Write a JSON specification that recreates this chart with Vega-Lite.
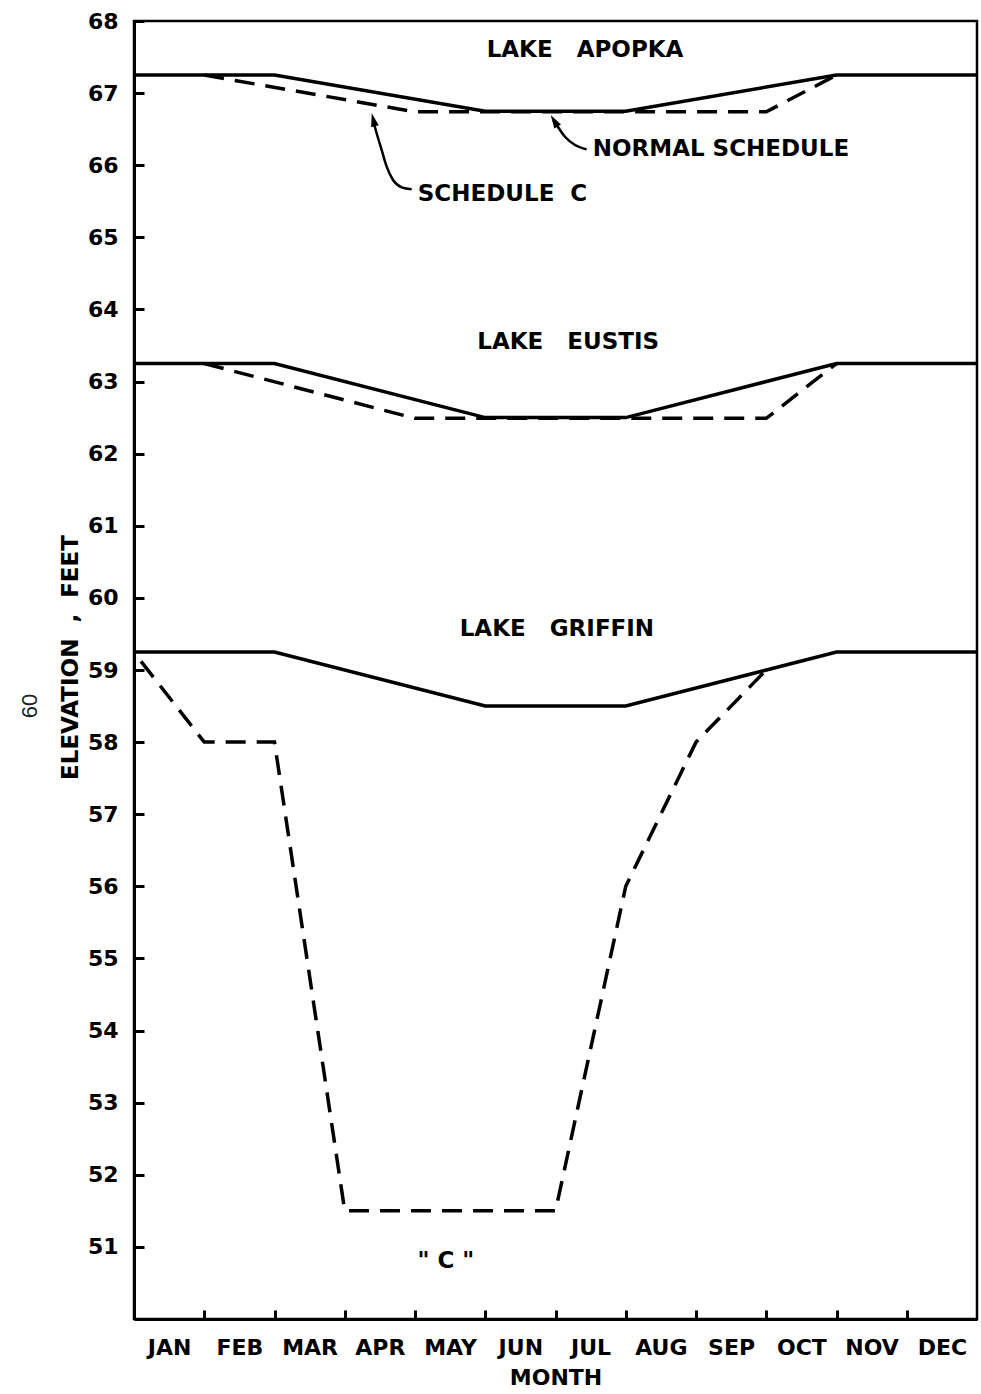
{
  "$schema": "https://vega.github.io/schema/vega-lite/v6.json",
  "width": 843,
  "height": 1298,
  "autosize": {"type": "none"},
  "padding": {"left": 134, "top": 21, "right": 4, "bottom": 75},
  "background": "white",
  "config": {
    "font": "DejaVu Sans",
    "view": {"stroke": "black", "strokeWidth": 2.5},
    "axis": {
      "grid": false,
      "domainColor": "black",
      "domainWidth": 3,
      "tickColor": "black",
      "tickWidth": 3,
      "labelColor": "black",
      "labelFont": "DejaVu Sans",
      "labelFontWeight": "bold",
      "labelFontSize": 22,
      "titleColor": "black",
      "titleFont": "DejaVu Sans",
      "titleFontWeight": "bold",
      "titleFontSize": 22
    }
  },
  "datasets": {
    "schedules": [
      {"lake": "Apopka", "schedule": "Normal", "month": 0, "elev": 67.25},
      {"lake": "Apopka", "schedule": "Normal", "month": 2, "elev": 67.25},
      {"lake": "Apopka", "schedule": "Normal", "month": 5, "elev": 66.75},
      {"lake": "Apopka", "schedule": "Normal", "month": 7, "elev": 66.75},
      {"lake": "Apopka", "schedule": "Normal", "month": 10, "elev": 67.25},
      {"lake": "Apopka", "schedule": "Normal", "month": 12, "elev": 67.25},
      {"lake": "Apopka", "schedule": "C", "month": 1, "elev": 67.25},
      {"lake": "Apopka", "schedule": "C", "month": 4, "elev": 66.74},
      {"lake": "Apopka", "schedule": "C", "month": 9, "elev": 66.74},
      {"lake": "Apopka", "schedule": "C", "month": 10, "elev": 67.25},
      {"lake": "Eustis", "schedule": "Normal", "month": 0, "elev": 63.25},
      {"lake": "Eustis", "schedule": "Normal", "month": 2, "elev": 63.25},
      {"lake": "Eustis", "schedule": "Normal", "month": 5, "elev": 62.5},
      {"lake": "Eustis", "schedule": "Normal", "month": 7, "elev": 62.5},
      {"lake": "Eustis", "schedule": "Normal", "month": 10, "elev": 63.25},
      {"lake": "Eustis", "schedule": "Normal", "month": 12, "elev": 63.25},
      {"lake": "Eustis", "schedule": "C", "month": 1, "elev": 63.25},
      {"lake": "Eustis", "schedule": "C", "month": 4, "elev": 62.49},
      {"lake": "Eustis", "schedule": "C", "month": 9, "elev": 62.49},
      {"lake": "Eustis", "schedule": "C", "month": 10, "elev": 63.25},
      {"lake": "Griffin", "schedule": "Normal", "month": 0, "elev": 59.25},
      {"lake": "Griffin", "schedule": "Normal", "month": 2, "elev": 59.25},
      {"lake": "Griffin", "schedule": "Normal", "month": 5, "elev": 58.5},
      {"lake": "Griffin", "schedule": "Normal", "month": 7, "elev": 58.5},
      {"lake": "Griffin", "schedule": "Normal", "month": 10, "elev": 59.25},
      {"lake": "Griffin", "schedule": "Normal", "month": 12, "elev": 59.25},
      {"lake": "Griffin", "schedule": "C", "month": 0.1, "elev": 59.12},
      {"lake": "Griffin", "schedule": "C", "month": 1, "elev": 58.0},
      {"lake": "Griffin", "schedule": "C", "month": 2, "elev": 58.0},
      {"lake": "Griffin", "schedule": "C", "month": 3, "elev": 51.5},
      {"lake": "Griffin", "schedule": "C", "month": 6, "elev": 51.5},
      {"lake": "Griffin", "schedule": "C", "month": 7, "elev": 56.0},
      {"lake": "Griffin", "schedule": "C", "month": 8, "elev": 58.0},
      {"lake": "Griffin", "schedule": "C", "month": 9, "elev": 59.0}
    ],
    "arrows": [
      {"arrow": "C", "seq": 1, "month": 3.953, "elev": 65.666},
      {"arrow": "C", "seq": 2, "month": 3.811, "elev": 65.694},
      {"arrow": "C", "seq": 3, "month": 3.687, "elev": 65.795},
      {"arrow": "C", "seq": 4, "month": 3.597, "elev": 65.98},
      {"arrow": "C", "seq": 5, "month": 3.526, "elev": 66.21},
      {"arrow": "C", "seq": 6, "month": 3.455, "elev": 66.44},
      {"arrow": "C", "seq": 7, "month": 3.41, "elev": 66.6},
      {"arrow": "N", "seq": 1, "month": 6.444, "elev": 66.22},
      {"arrow": "N", "seq": 2, "month": 6.278, "elev": 66.28},
      {"arrow": "N", "seq": 3, "month": 6.135, "elev": 66.395},
      {"arrow": "N", "seq": 4, "month": 6.017, "elev": 66.558},
      {"arrow": "N", "seq": 5, "month": 5.97, "elev": 66.63}
    ],
    "tips": [
      {"arrow": "C", "month": 3.384, "elev": 66.72},
      {"arrow": "N", "month": 5.932, "elev": 66.696}
    ],
    "notes": [
      {"label": "LAKE\u00a0\u00a0\u00a0APOPKA", "pos": "center", "month": 6.42, "elev": 67.6},
      {"label": "LAKE\u00a0\u00a0\u00a0EUSTIS", "pos": "center", "month": 6.18, "elev": 63.55},
      {"label": "LAKE\u00a0\u00a0\u00a0GRIFFIN", "pos": "center", "month": 6.02, "elev": 59.57},
      {"label": "\"\u00a0C\u00a0\"", "pos": "center", "month": 4.44, "elev": 50.8},
      {"label": "NORMAL\u00a0SCHEDULE", "pos": "left", "month": 6.53, "elev": 66.225},
      {"label": "SCHEDULE\u00a0 C", "pos": "left", "month": 4.04, "elev": 65.6}
    ],
    "page": [
      {"label": "60", "month": -1.48, "elev": 58.5}
    ]
  },
  "layer": [
    {
      "data": {"name": "schedules"},
      "transform": [{"filter": "datum.schedule === 'C'"}],
      "mark": {"type": "line", "color": "black", "strokeWidth": 3.5, "strokeDash": [20, 11]},
      "encoding": {
        "x": {
          "field": "month",
          "type": "quantitative",
          "scale": {"domain": [0, 12], "nice": false, "zero": false},
          "axis": {
            "title": "MONTH",
            "values": [0, 1, 2, 3, 4, 5, 6, 7, 8, 9, 10, 11],
            "tickSize": -9,
            "labelExpr": "['JAN','FEB','MAR','APR','MAY','JUN','JUL','AUG','SEP','OCT','NOV','DEC'][round(datum.value)]",
            "labelOffset": 35.1,
            "labelOverlap": false,
            "labelFlush": false,
            "labelBound": false,
            "labelPadding": 27,
            "titlePadding": 9
          }
        },
        "y": {
          "field": "elev",
          "type": "quantitative",
          "scale": {"domain": [50, 68], "nice": false, "zero": false},
          "axis": {
            "title": "ELEVATION\u00a0\u00a0,\u00a0\u00a0FEET",
            "titleFontSize": 23,
            "values": [51, 52, 53, 54, 55, 56, 57, 58, 59, 60, 61, 62, 63, 64, 65, 66, 67, 68],
            "format": "d",
            "tickSize": -10,
            "labelPadding": 26,
            "titleX": -64,
            "titleY": 636,
            "titleAngle": -90,
            "titleAlign": "center",
            "titleBaseline": "middle"
          }
        },
        "detail": {"field": "lake"}
      }
    },
    {
      "data": {"name": "schedules"},
      "transform": [{"filter": "datum.schedule === 'Normal'"}],
      "mark": {"type": "line", "color": "black", "strokeWidth": 3.5},
      "encoding": {
        "x": {"field": "month", "type": "quantitative"},
        "y": {"field": "elev", "type": "quantitative"},
        "detail": {"field": "lake"}
      }
    },
    {
      "data": {"name": "arrows"},
      "mark": {"type": "line", "color": "black", "strokeWidth": 2.5, "interpolate": "monotone"},
      "encoding": {
        "x": {"field": "month", "type": "quantitative"},
        "y": {"field": "elev", "type": "quantitative"},
        "detail": {"field": "arrow"},
        "order": {"field": "seq"}
      }
    },
    {
      "data": {"name": "tips"},
      "transform": [{"filter": "datum.arrow === 'C'"}],
      "mark": {"type": "point", "filled": true, "color": "black", "opacity": 1, "shape": "M0,0L0.35,1.2L-0.35,1.2Z", "size": 500, "angle": -14},
      "encoding": {
        "x": {"field": "month", "type": "quantitative"},
        "y": {"field": "elev", "type": "quantitative"}
      }
    },
    {
      "data": {"name": "tips"},
      "transform": [{"filter": "datum.arrow === 'N'"}],
      "mark": {"type": "point", "filled": true, "color": "black", "opacity": 1, "shape": "M0,0L0.35,1.2L-0.35,1.2Z", "size": 500, "angle": -31},
      "encoding": {
        "x": {"field": "month", "type": "quantitative"},
        "y": {"field": "elev", "type": "quantitative"}
      }
    },
    {
      "data": {"name": "notes"},
      "transform": [{"filter": "datum.pos === 'center'"}],
      "mark": {"type": "text", "align": "center", "baseline": "middle", "fontSize": 23, "fontWeight": "bold", "color": "black"},
      "encoding": {
        "x": {"field": "month", "type": "quantitative"},
        "y": {"field": "elev", "type": "quantitative"},
        "text": {"field": "label"}
      }
    },
    {
      "data": {"name": "notes"},
      "transform": [{"filter": "datum.pos === 'left'"}],
      "mark": {"type": "text", "align": "left", "baseline": "middle", "fontSize": 23, "fontWeight": "bold", "color": "black"},
      "encoding": {
        "x": {"field": "month", "type": "quantitative"},
        "y": {"field": "elev", "type": "quantitative"},
        "text": {"field": "label"}
      }
    },
    {
      "data": {"name": "page"},
      "mark": {"type": "text", "align": "center", "baseline": "middle", "font": "Liberation Sans", "fontSize": 22, "angle": -90, "color": "#222222"},
      "encoding": {
        "x": {"field": "month", "type": "quantitative"},
        "y": {"field": "elev", "type": "quantitative"},
        "text": {"field": "label"}
      }
    }
  ]
}
